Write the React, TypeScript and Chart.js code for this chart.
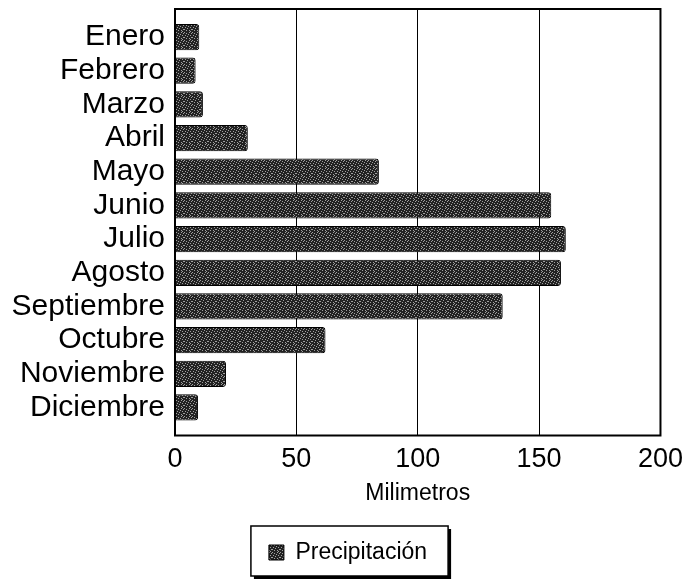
import React, { useEffect, useRef } from "react";
import { Chart, registerables } from "chart.js";

Chart.register(...registerables);

const months = [
  "Enero", "Febrero", "Marzo", "Abril", "Mayo", "Junio",
  "Julio", "Agosto", "Septiembre", "Octubre", "Noviembre", "Diciembre",
];
const precipitation = [10, 8.5, 11.5, 30, 84, 155, 161, 159, 135, 62, 21, 9.5];
const seriesName = "Precipitación";
const axisTitle = "Milimetros";
const xTicks = [0, 50, 100, 150, 200];

const FONT = "'Liberation Sans', Arial, sans-serif";
const LEGEND_SHIFT = 30;

function makePattern(): CanvasPattern | string {
  const c = document.createElement("canvas");
  c.width = 8;
  c.height = 8;
  const g = c.getContext("2d");
  if (!g) return "#333";
  g.fillStyle = "#222222";
  g.fillRect(0, 0, 8, 8);
  const mask = [
    "10000100",
    "00100001",
    "00001000",
    "01000010",
    "00010000",
    "10000001",
    "00100100",
    "00000010",
  ];
  g.fillStyle = "#a0a0a0";
  for (let y = 0; y < 8; y++) {
    for (let x = 0; x < 8; x++) {
      if (mask[y][x] === "1") g.fillRect(x, y, 1, 1);
    }
  }
  const p = g.createPattern(c, "repeat");
  return p || "#333";
}

const framePlugin = {
  id: "frame",
  afterLayout(chart: any) {
    const lg = chart.legend;
    if (!lg) return;
    lg.left += LEGEND_SHIFT;
  },
  beforeDraw(chart: any) {
    const hb = chart.legend?.legendHitBoxes?.[0];
    if (!hb) return;
    const { ctx } = chart;
    const x = hb.left - 18;
    const y = hb.top - 15;
    const w = hb.width + 39;
    const h = hb.height + 27;
    ctx.save();
    ctx.fillStyle = "#000";
    ctx.fillRect(x + 3, y + 3, w, h);
    ctx.fillStyle = "#fff";
    ctx.fillRect(x, y, w, h);
    ctx.strokeStyle = "#000";
    ctx.lineWidth = 1.5;
    ctx.strokeRect(x, y, w, h);
    ctx.restore();
  },
  afterDraw(chart: any) {
    const { ctx, chartArea: a } = chart;
    ctx.save();
    ctx.strokeStyle = "#000";
    ctx.lineWidth = 2;
    ctx.strokeRect(a.left, a.top, a.right - a.left, a.bottom - a.top);
    ctx.restore();
  },
};

export default function App() {
  const ref = useRef<HTMLCanvasElement | null>(null);

  useEffect(() => {
    document.body.style.margin = "0";
    const canvas = ref.current;
    if (!canvas) return;
    const fill = makePattern();
    const chart = new Chart(canvas, {
      type: "bar",
      data: {
        datasets: [
          {
            label: seriesName,
            data: precipitation.map((v, i) => ({ x: v, y: i })),
            backgroundColor: fill as any,
            borderColor: "#000",
            borderWidth: 1,
            borderRadius: 3,
            borderSkipped: "start",
            categoryPercentage: 1,
            barPercentage: 0.78,
          },
        ],
      },
      options: {
        indexAxis: "y",
        animation: false,
        responsive: false,
        maintainAspectRatio: false,
        layout: { padding: { top: 9, right: 25, left: 0, bottom: 6 } },
        plugins: {
          legend: {
            position: "bottom",
            labels: {
              font: { family: FONT, size: 23 },
              color: "#000",
              boxWidth: 15,
              boxHeight: 15,
              padding: 10,
            },
          },
          tooltip: { enabled: false },
        },
        scales: {
          x: {
            type: "linear",
            min: 0,
            max: 200,
            afterBuildTicks: (s: any) => {
              s.ticks = xTicks.map((v) => ({ value: v }));
            },
            afterFit: (s: any) => {
              s.height = 95.5;
            },
            grid: { color: "#000", lineWidth: 1, drawTicks: false },
            border: { display: false },
            ticks: {
              font: { family: FONT, size: 27 },
              color: "#000",
              padding: 8,
              maxRotation: 0,
            },
            title: {
              display: true,
              text: axisTitle,
              font: { family: FONT, size: 23 },
              color: "#000",
              padding: { top: 0, bottom: 24 },
            },
          },
          y: {
            type: "linear",
            reverse: true,
            offset: false,
            bounds: "data",
            min: -0.833,
            max: 11.833,
            afterBuildTicks: (s: any) => {
              s.ticks = months.map((_, i) => ({ value: i }));
            },
            afterFit: (s: any) => {
              s.width = 175;
              s.paddingTop = 0;
              s.paddingBottom = 0;
            },
            grid: { display: false, drawTicks: false },
            border: { display: false },
            ticks: {
              font: { family: FONT, size: 30 },
              color: "#000",
              padding: 10,
              autoSkip: false,
              callback: (v: any) => months[v] ?? "",
            },
          },
        },
      },
      plugins: [framePlugin],
    } as any);
    return () => chart.destroy();
  }, []);

  return (
    <div style={{ width: 691, height: 580 }}>
      <canvas ref={ref} width={691} height={580} style={{ display: "block" }} />
    </div>
  );
}
